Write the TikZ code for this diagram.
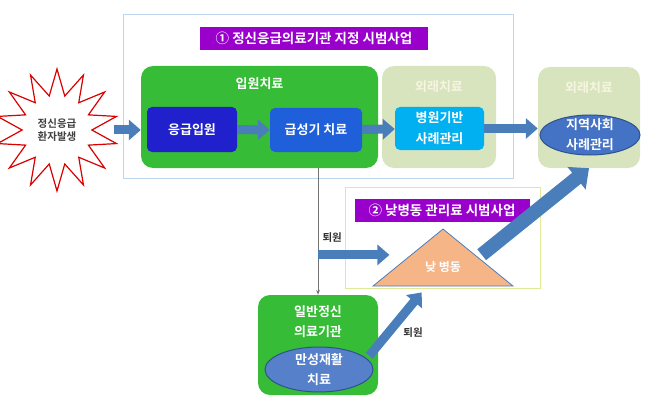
\documentclass[tikz,border=0pt]{standalone}
\usepackage{fontspec}
\setmainfont{Noto Sans CJK KR}[BoldFont={Noto Sans CJK KR Bold}]
\usepackage{xcolor}
\usetikzlibrary{positioning,arrows.meta,calc,shapes.geometric}

\definecolor{boxblue}{HTML}{BDD7EE}
\definecolor{pilotpurple}{HTML}{9900CC}
\definecolor{wardgreen}{HTML}{36BC36}
\definecolor{emblue}{HTML}{2020CC}
\definecolor{acuteblue}{HTML}{1F60DA}
\definecolor{outolive}{HTML}{D7E4BD}
\definecolor{hospcyan}{HTML}{00B0F0}
\definecolor{arrowblue}{HTML}{4A7EBB}
\definecolor{ellblue}{HTML}{4472C4}
\definecolor{elledge}{HTML}{2F528F}
\definecolor{peach}{HTML}{F6B586}

\begin{document}
\begin{tikzpicture}[
  x=1pt, y=-1pt,
  burst/.style={star, star points=14, star point ratio=1.75, minimum size=122pt, inner sep=0pt,
    draw=red!85!black, fill=white, line width=1.2pt, align=center,
    font=\fontsize{10.5}{13}\selectfont\bfseries, text=black!75},
  framebox/.style={draw, line width=1pt, inner sep=0pt},
  plabel/.style={fill=pilotpurple, text=white, minimum height=23pt, inner sep=0pt,
    font=\fontsize{13.5}{15}\selectfont\bfseries},
  roundbox/.style={rounded corners=12pt, inner sep=0pt},
  title/.style={text=white, font=\fontsize{13}{15}\selectfont\bfseries, align=center},
  innerbox/.style={rounded corners=5pt, inner sep=0pt, text=white, align=center,
    font=\fontsize{13}{21}\selectfont\bfseries},
  caseell/.style={ellipse, draw=elledge, line width=1pt, inner sep=-6pt, text=white, align=center,
    font=\fontsize{13}{20}\selectfont\bfseries},
  blockarrow/.style={draw=arrowblue, line width=9pt, -{Triangle[width=20pt,length=12pt]}},
  bigarrow/.style={draw=arrowblue, line width=14pt, -{Triangle[width=28pt,length=16pt]}},
  thinarrow/.style={draw=black!55, line width=0.8pt, -{Stealth[length=5pt]}},
  note/.style={font=\fontsize{10.5}{12}\selectfont\bfseries, text=black!80}
]
  \useasboundingbox (0,0) rectangle (650,401);

  \node (star) [burst] at (57,130) {정신응급\\환자발생};

  % pilot 1
  \node (pilot1) [framebox, draw=boxblue, minimum width=390pt, minimum height=163pt] at (318,96.5) {};
  \node (pilot1-label) [plabel, minimum width=228pt] at (314,38.5) {① 정신응급의료기관 지정 시범사업};

  \node (inpatient) [roundbox, fill=wardgreen, minimum width=237pt, minimum height=102pt,
    label={[title, anchor=north, yshift=-8pt]north:입원치료}] at (259.5,117) {};
  \node (emergency) [innerbox, fill=emblue, minimum width=90pt, minimum height=45pt] at (192,129.5) {응급입원};
  \node (acute) [innerbox, fill=acuteblue, minimum width=92pt, minimum height=44pt] at (316,130) {급성기 치료};

  \node (outpt1) [roundbox, fill=outolive, minimum width=114pt, minimum height=102pt,
    label={[title, text=white!92!olive, anchor=north, yshift=-11pt]north:외래치료}] at (439,117) {};
  \node (hospcm) [innerbox, fill=hospcyan, minimum width=89pt, minimum height=43pt] at (439.5,128.5) {병원기반\\사례관리};

  \node (outpt2) [roundbox, fill=outolive, minimum width=102pt, minimum height=101pt,
    label={[title, text=white!92!olive, anchor=north, yshift=-11pt]north:외래치료}] at (589,117.5) {};
  \node (commcm) [caseell, fill=ellblue, minimum width=100pt, minimum height=40pt] at (590,135) {지역사회\\사례관리};

  % pilot 2
  \node (pilot2) [framebox, draw=outolive!80!yellow, minimum width=195pt, minimum height=101pt] at (442.5,237.5) {};
  \node (pilot2-label) [plabel, minimum width=175pt] at (442,210.5) {② 낮병동 관리료 시범사업};
  \node (dayward) [isosceles triangle, isosceles triangle stretches, shape border rotate=90,
    minimum width=140pt, minimum height=57pt, inner sep=0pt, fill=peach, draw=arrowblue, line width=0.8pt,
    anchor=apex, text=white, font=\fontsize{12}{14}\selectfont\bfseries] at (443,228) {낮 병동};

  \node (general) [roundbox, fill=wardgreen, minimum width=120pt, minimum height=100pt,
    label={[title, anchor=north, yshift=-7pt, font=\fontsize{13}{20}\selectfont\bfseries]north:일반정신\\의료기관}] at (318,345) {};
  \node (chronic) [caseell, fill=ellblue!90!white, minimum width=108pt, minimum height=45pt] at (319,369.5) {만성재활\\치료};

  % connectors
  \draw[blockarrow, shorten <=21pt] (star.east) -- (star.east -| inpatient.west);
  \draw[blockarrow] (emergency) -- (acute);
  \draw[blockarrow] (acute) -- (hospcm);
  \draw[blockarrow] (hospcm.east) -- (hospcm.east -| outpt2.west);

  \draw[thinarrow] (inpatient.south -| general.north) -- (general.north);
  \coordinate (split) at ($(inpatient.south -| general.north)!0.685!(general.north)$);
  \node (discharge1) [note, anchor=west] at ($(split)+(1,-17)$) {퇴원};
  \draw[blockarrow, shorten >=18pt] (split) -- (split -| dayward.left side);

  \draw[blockarrow, shorten <=-14pt] (general.east) -- ($(dayward.lower side)!0.3!(dayward.left corner)+(0,6)$);
  \node (discharge2) [note] at (413,333) {퇴원};

  \draw[bigarrow, shorten <=4pt] (dayward.right side) -- (outpt2.south);
\end{tikzpicture}
\end{document}
